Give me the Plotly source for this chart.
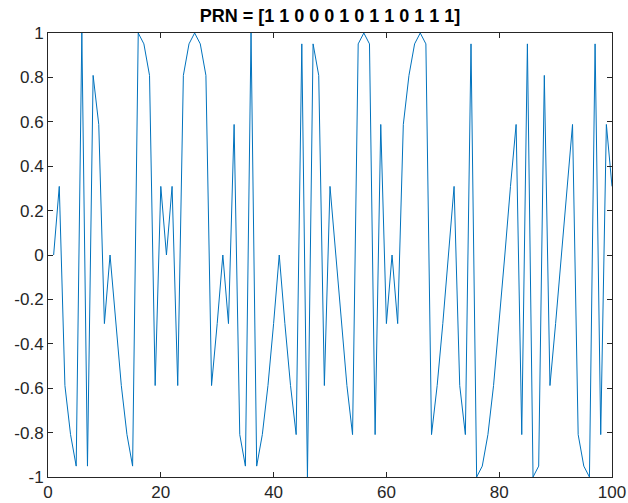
import plotly.graph_objects as go

# sample index (MATLAB-style 1..N)
sample_index = list(range(1, 101))

# modulated signal values
signal = [
    0, 0.309, -0.588, -0.809, -0.951, 1, -0.951, 0.809, 0.588, -0.309,
    0, -0.309, -0.588, -0.809, -0.951, 1, 0.951, 0.809, -0.588, 0.309,
    0, 0.309, -0.588, 0.809, 0.951, 1, 0.951, 0.809, -0.588, -0.309,
    0, -0.309, 0.588, -0.809, -0.951, 1, -0.951, -0.809, -0.588, -0.309,
    0, -0.309, -0.588, -0.809, 0.951, -1, 0.951, 0.809, -0.588, 0.309,
    0, -0.309, -0.588, -0.809, 0.951, 1, 0.951, -0.809, 0.588, -0.309,
    0, -0.309, 0.588, 0.809, 0.951, 1, 0.951, -0.809, -0.588, -0.309,
    0, 0.309, -0.588, -0.809, 0.951, -1, -0.951, -0.809, -0.588, -0.309,
    0, 0.309, 0.588, -0.809, 0.951, -1, -0.951, 0.809, -0.588, -0.309,
    0, 0.309, 0.588, -0.809, -0.951, -1, 0.951, -0.809, 0.588, 0.309,
]

x_ticks = [0, 20, 40, 60, 80, 100]
y_ticks = [-1, -0.8, -0.6, -0.4, -0.2, 0, 0.2, 0.4, 0.6, 0.8, 1]
y_tick_labels = ["-1", "-0.8", "-0.6", "-0.4", "-0.2", "0", "0.2", "0.4", "0.6", "0.8", "1"]
title_text = "PRN = [1 1 0 0 0 1 0 1 1 0 1 1 1]"

W, H = 628, 503
ML, MR, MT, MB = 48, 16, 33, 26

fig = go.Figure()
fig.add_trace(go.Scatter(
    x=sample_index, y=signal, mode="lines",
    line=dict(color="#0072BD", width=1),
    hoverinfo="skip",
))

axis_color = "#262626"
font_family = "Liberation Sans, Arial, sans-serif"
common = dict(
    showline=True, linecolor=axis_color, linewidth=1, mirror="ticks",
    ticks="inside", ticklen=5, tickcolor=axis_color, tickwidth=1,
    showgrid=False, zeroline=False, automargin=False,
    tickfont=dict(family=font_family, size=17, color=axis_color),
)

fig.update_layout(
    width=W, height=H,
    margin=dict(l=ML, r=MR, t=MT, b=MB),
    paper_bgcolor="white", plot_bgcolor="white",
    showlegend=False,
    hovermode=False,
    title=dict(
        text="<b>" + title_text + "</b>",
        x=(ML + (W - MR)) / 2 / W, xanchor="center",
        yref="container", y=1 - 16 / H, yanchor="middle",
        font=dict(family=font_family, size=18, color="black"),
    ),
    xaxis=dict(range=[0, 100], tickvals=x_ticks, **common),
    yaxis=dict(range=[-1, 1], tickvals=y_ticks, ticktext=y_tick_labels, **common),
)

fig.write_html(
    "out.html",
    config={"displayModeBar": False, "staticPlot": True},
    post_script="document.body.style.margin='0';document.body.style.overflow='hidden';",
)
